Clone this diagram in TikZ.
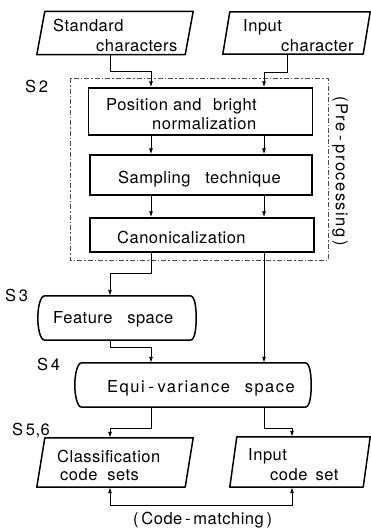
\documentclass[tikz,border=0pt]{standalone}
\usepackage{fontspec}
\setmainfont[LetterSpace=3]{TeX Gyre Heros}
\newfontfamily\widesans[LetterSpace=9]{TeX Gyre Heros}
\usetikzlibrary{arrows.meta}
\begin{document}
\begin{tikzpicture}[x=1pt,y=-1pt,
  font=\fontsize{16.5}{19}\selectfont,
  txt/.style={inner sep=0pt, anchor=base west},
  box/.style={draw, line width=1.5pt, inner sep=0pt, minimum width=#1},
  shapebody/.style={inner sep=0pt},
  outline/.style={line width=1.5pt, line join=round},
  arr/.style={line width=0.9pt, -{Latex[length=6pt,width=4pt]}},
  frame/.style={line width=0.6pt, black!70, dash pattern=on 5pt off 2pt on 1.5pt off 2pt}
]
\useasboundingbox (0,0) rectangle (371,531);

% slanted outline round a body node: #1 node, #2 half of the horizontal slant
\newcommand\slantoutline[2]{%
  \draw[outline] ([xshift=#2]#1.north west) -- ([xshift=#2]#1.north east)
    -- ([xshift=-#2]#1.south east) -- ([xshift=-#2]#1.south west) -- cycle;}
% flat top and bottom with bulging ends round a body node
\newcommand\capsuleoutline[1]{%
  \draw[outline] (#1.north west) -- (#1.north east)
    .. controls +(5,0) and +(0,-9) .. ([xshift=6pt]#1.east)
    .. controls +(0,9) and +(5,0) .. (#1.south east)
    -- (#1.south west)
    .. controls +(-5,0) and +(0,9) .. ([xshift=-7pt]#1.west)
    .. controls +(0,-9) and +(-5,0) .. (#1.north west) -- cycle;}

% vertical tracks of the connectors
\coordinate (xL) at (110,0);
\coordinate (xM) at (151,0);
\coordinate (xR) at (264,0);
\coordinate (xI) at (287,0);
\coordinate (xC) at (292,0);
\coordinate (ybot) at (0,505);

% input shapes
\node[shapebody, minimum width=148pt, minimum height=43pt] (std) at (115,33) {};
\slantoutline{std}{4pt}
\node[shapebody, minimum width=140pt, minimum height=42pt] (inp) at (296.5,33) {};
\slantoutline{inp}{3.5pt}
\node[txt] (stdA) at (53,31) {Standard};
\node[txt] (stdB) at (96,51) {characters};
\node[txt] (inpA) at (243,31) {Input};
\node[txt] (inpB) at (281,51) {character};

% pre-processing frame
\draw[frame] (70,78) rectangle (328,260);
\node[inner sep=0pt, rotate=-90, font=\widesans\fontsize{16.5}{19}\selectfont] (pre) at (340,171) {(Pre\:-\:processing\,)};

% pre-processing steps
\node[box=224pt, minimum height=47pt] (pos) at (200.5,111.5) {};
\node[txt] (posA) at (106,110) {Position and\hspace{0.7em}bright};
\node[txt] (posB) at (152,129) {normalization};
\node[box=222pt, minimum height=40pt] (samp) at (201,175) {};
\node[txt] (sampA) at (118,183) {Sampling\hspace{0.9em}technique};
\node[box=224pt, minimum height=34pt] (canon) at (202,235) {};
\node[txt] (canonA) at (117,243) {Canonicalization};

% spaces
\node[shapebody, minimum width=145pt, minimum height=44pt] (feat) at (117.5,318) {};
\capsuleoutline{feat}
\node[txt] (featA) at (53,323) {Feature\hspace{0.9em}space};
\node[shapebody, minimum width=223pt, minimum height=44pt] (equi) at (193.5,385) {};
\capsuleoutline{equi}
\node[txt, font=\widesans\fontsize{16.5}{19}\selectfont] (equiA) at (107,392) {Equi\:-\:variance\hspace{0.9em}space};

% code sets
\node[shapebody, minimum width=148pt, minimum height=49pt] (cls) at (115,462.5) {};
\slantoutline{cls}{4pt}
\node[shapebody, minimum width=133pt, minimum height=50pt] (icode) at (300,462) {};
\slantoutline{icode}{3.5pt}
\node[txt] (clsA) at (57,462) {Classification};
\node[txt] (clsB) at (60,480) {code\hspace{0.6em}sets};
\node[txt] (icA) at (248,460) {Input};
\node[txt] (icB) at (270,480) {code\hspace{0.5em}set};

% step labels
\node[txt] (s2) at (25,92) {S\,2};
\node[txt] (s3) at (5,301) {S\,3};
\node[txt] (s4) at (37,370) {S\,4};
\node[txt] (s56) at (12,435) {S\,5,6};
\node[txt] (cm) at (133,524) {(\,Code\,-\,matching\,)};

% connectors
\draw[arr] (xL |- std.south) -- ++(0,17) -| (xM |- pos.north);
\draw[arr] (xI |- inp.south) -- ++(0,18) -| (xR |- pos.north);
\draw[arr] (xM |- pos.south) -- (xM |- samp.north);
\draw[arr] (xR |- pos.south) -- (xR |- samp.north);
\draw[arr] (xM |- samp.south) -- (xM |- canon.north);
\draw[arr] (xR |- samp.south) -- (xR |- canon.north);
\draw[arr] (xM |- canon.south) -- ++(0,21) -| (xL |- feat.north);
\draw[arr] (xR |- canon.south) -- (xR |- equi.north);
\draw[arr] (xL |- feat.south) -- ++(0,7) -| (xM |- equi.north);
\draw[arr] (xM |- equi.south) -- ++(0,21) -| (xL |- cls.north);
\draw[arr] (xR |- equi.south) -- ++(0,21) -| (xC |- icode.north);
\draw[arr] (xL |- ybot) -- (xL |- cls.south);
\draw[arr] (xL |- ybot) -| (xC |- icode.south);
\end{tikzpicture}
\end{document}
